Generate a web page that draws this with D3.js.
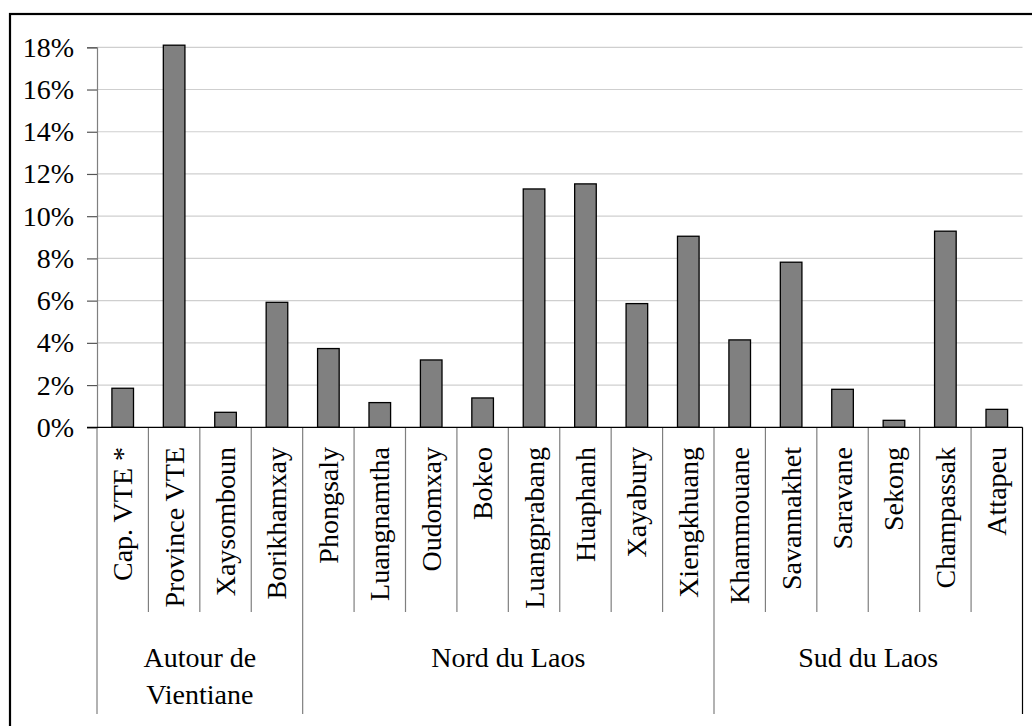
<!DOCTYPE html>
<html>
<head>
<meta charset="utf-8">
<script src="https://cdn.jsdelivr.net/npm/d3@7"></script>
</head>
<body style="margin:0">
<svg id="chart" width="1032" height="726" style="font-family: 'Liberation Serif' !important"></svg>
<script>
const categories = ["Cap. VTE *", "Province VTE", "Xaysomboun", "Borikhamxay",
  "Phongsaly", "Luangnamtha", "Oudomxay", "Bokeo", "Luangprabang", "Huaphanh", "Xayabury", "Xiengkhuang",
  "Khammouane", "Savannakhet", "Saravane", "Sekong", "Champassak", "Attapeu"];
const values = [1.85, 18.1, 0.71, 5.92,
  3.73, 1.17, 3.19, 1.39, 11.29, 11.53, 5.86, 9.05,
  4.14, 7.82, 1.80, 0.33, 9.29, 0.85];
const groupNames = [["Autour de", "Vientiane"], ["Nord du Laos"], ["Sud du Laos"]];
const groupSizes = [4, 8, 6];
const yTicks = [0, 2, 4, 6, 8, 10, 12, 14, 16, 18];

const svg = d3.select("#chart");
const X0 = 97, X1 = 1022.5, YB = 427.3, YT = 47.3;
const FS = 28;
const FONT = "'Liberation Serif'";
function serif(sel) {
  sel.style("font-family", FONT, "important").style("font-size", FS + "px", "important");
}

// outer frame
svg.append("rect").attr("x", 10).attr("y", 14).attr("width", 1040).attr("height", 730)
  .attr("fill", "none").attr("stroke", "#000").attr("stroke-width", 2.2);

const x = d3.scaleBand().domain(categories).range([X0, X1]).paddingInner(0).paddingOuter(0);
const y = d3.scaleLinear().domain([0, 18]).range([YB, YT]);

// gridlines
svg.append("g").selectAll("line").data(yTicks.filter(d => d > 0)).join("line")
  .attr("x1", X0).attr("x2", X1)
  .attr("y1", d => y(d)).attr("y2", d => y(d))
  .attr("stroke", "#cfcfcf").attr("stroke-width", 1.2);

// y axis
const yAxis = d3.axisLeft(y).tickValues(yTicks).tickSize(10).tickPadding(13)
  .tickFormat(d => d + "%");
const gy = svg.append("g").attr("transform", `translate(${X0},0)`).call(yAxis);
gy.attr("font-family", "Liberation Serif").attr("font-size", FS);
gy.select(".domain").attr("stroke", "#7f7f7f").attr("stroke-width", 1.2);
gy.selectAll(".tick line").attr("stroke", "#555").attr("stroke-width", 1.2);
gy.selectAll(".tick text").attr("fill", "#000").call(serif);

// bars
const bw = x.bandwidth() * 0.42;
svg.append("g").selectAll("rect").data(categories).join("rect")
  .attr("x", d => x(d) + (x.bandwidth() - bw) / 2)
  .attr("y", (d, i) => y(values[i]))
  .attr("width", bw)
  .attr("height", (d, i) => YB - y(values[i]))
  .attr("fill", "#808080").attr("stroke", "#000").attr("stroke-width", 1.3);

// category separators
const groupEnds = [];
let acc = 0;
groupSizes.forEach(s => { groupEnds.push(acc); acc += s; });
groupEnds.push(acc);
const sepIdx = d3.range(0, categories.length + 1);
svg.append("g").selectAll("line").data(sepIdx).join("line")
  .attr("x1", i => X0 + i * x.bandwidth()).attr("x2", i => X0 + i * x.bandwidth())
  .attr("y1", YB)
  .attr("y2", i => groupEnds.includes(i) ? 714 : 612)
  .attr("stroke", i => i === categories.length ? "#000" : "#7f7f7f")
  .attr("stroke-width", 1.2);

// baseline
svg.append("line").attr("x1", X0 - 10).attr("x2", X1).attr("y1", YB).attr("y2", YB)
  .attr("stroke", "#000").attr("stroke-width", 1.3);

// category labels
svg.append("g").attr("font-family", "Liberation Serif").selectAll("text").data(categories).join("text")
  .attr("transform", d => `translate(${x(d) + x.bandwidth() / 2},447) rotate(-90)`)
  .attr("text-anchor", "end").attr("dy", "0.34em")
  .attr("fill", "#000").attr("font-size", FS)
  .call(serif)
  .text(d => d);

// group labels
const gl = svg.append("g").attr("font-family", "Liberation Serif");
groupNames.forEach((lines, gi) => {
  const cx = X0 + (groupEnds[gi] + groupSizes[gi] / 2) * x.bandwidth();
  lines.forEach((t, li) => {
    gl.append("text").attr("x", cx).attr("y", 667 + li * 37)
      .attr("text-anchor", "middle").attr("fill", "#000").attr("font-size", FS)
      .call(serif)
      .text(t);
  });
});
</script>
</body>
</html>
